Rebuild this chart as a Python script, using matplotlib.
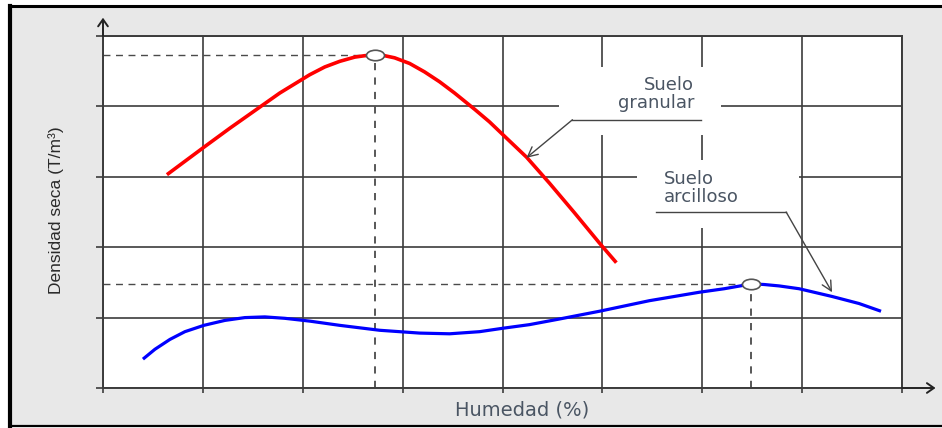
"""Curvas de compactación: densidad seca vs humedad (suelo granular y arcilloso)."""

import numpy as np
import matplotlib
matplotlib.use("Agg")
import matplotlib.pyplot as plt
from matplotlib.lines import Line2D
from matplotlib.patches import Rectangle
from matplotlib.path import Path
from matplotlib.transforms import Affine2D

# Datos (unidades = celdas de la grilla)
humedad_granular = [0.64, 0.82, 1.01, 1.27, 1.57, 1.77, 1.92, 2.07, 2.22, 2.37, 2.52, 2.62,
                    2.72, 2.82, 2.92, 3.07, 3.22, 3.37, 3.52, 3.72, 3.87, 4.01, 4.24, 4.47,
                    4.72, 4.97, 5.14]
densidad_granular = [3.03, 3.22, 3.42, 3.69, 3.99, 4.19, 4.32, 4.45, 4.56, 4.64, 4.70, 4.72,
                     4.73, 4.72, 4.69, 4.61, 4.49, 4.35, 4.19, 3.96, 3.78, 3.59, 3.28, 2.91,
                     2.49, 2.06, 1.78]

humedad_arcilloso = [0.40, 0.52, 0.67, 0.82, 1.01, 1.22, 1.42, 1.62, 1.82, 2.07, 2.37, 2.77,
                     3.17, 3.47, 3.77, 4.01, 4.27, 4.57, 4.97, 5.47, 5.97, 6.22, 6.42, 6.49,
                     6.62, 6.77, 6.97, 7.30, 7.57, 7.79]
densidad_arcilloso = [0.41, 0.55, 0.69, 0.80, 0.89, 0.96, 1.00, 1.01, 0.99, 0.95, 0.89, 0.82,
                      0.78, 0.77, 0.80, 0.85, 0.90, 0.98, 1.09, 1.24, 1.36, 1.41, 1.46, 1.48,
                      1.47, 1.45, 1.41, 1.30, 1.20, 1.09]

GRIS = "#3c3c3c"
FONDO = "#e8e8e8"
TEXTO = "#4a5563"

fig = plt.figure(figsize=(9.42, 4.28), dpi=100, facecolor="white")

# Marco gris con bordes negros (como la captura original)
W, H = 942.0, 428.0
fig.patches.append(Rectangle((10 / W, 2 / H), 1 - 10 / W, (422 - 2) / H,
                             transform=fig.transFigure, facecolor=FONDO,
                             edgecolor="none", zorder=-10))
fig.lines.append(Line2D([10 / W, 1], [(H - 6) / H] * 2, transform=fig.transFigure,
                        color="black", lw=2.2))
fig.lines.append(Line2D([10 / W, 1], [2 / H] * 2, transform=fig.transFigure,
                        color="black", lw=1.6))
fig.lines.append(Line2D([10 / W] * 2, [2 / H, (H - 6) / H], transform=fig.transFigure,
                        color="black", lw=3.0))

ax = fig.add_axes([103 / W, 40 / H, 799 / W, 352 / H])
ax.set_facecolor("white")
ax.set_xlim(0, 8)
ax.set_ylim(0, 5)
ax.set_xticks(np.arange(0, 9))
ax.set_yticks(np.arange(0, 6))
ax.set_xticklabels([])
ax.set_yticklabels([])
ax.tick_params(axis="x", length=3.5, width=1.2, color=GRIS, direction="out")
ax.tick_params(axis="y", length=5, width=1.2, color=GRIS, direction="out")
ax.grid(True, color=GRIS, lw=1.2, zorder=0)
ax.set_axisbelow(True)
for s in ax.spines.values():
    s.set_color(GRIS)
    s.set_linewidth(1.4)

# Flechas de los ejes
ax.annotate("", xy=(0, 1.052), xytext=(0, 1.0), xycoords="axes fraction",
            arrowprops=dict(arrowstyle="->,head_length=0.5,head_width=0.35",
                            color="#222222", lw=1.4, shrinkA=0, shrinkB=0),
            annotation_clip=False)
ax.annotate("", xy=(1.042, 0), xytext=(1.0, 0), xycoords="axes fraction",
            arrowprops=dict(arrowstyle="->,head_length=0.5,head_width=0.35",
                            color="#222222", lw=1.4, shrinkA=0, shrinkB=0),
            annotation_clip=False)

# Recuadros blancos detrás de las etiquetas (tapan la grilla)
ax.add_patch(Rectangle((4.57, 3.59), 1.62, 0.97, facecolor="white", edgecolor="none", zorder=1))
ax.add_patch(Rectangle((5.35, 2.27), 1.62, 0.97, facecolor="white", edgecolor="none", zorder=1))

# Curvas
ax.plot(humedad_granular, densidad_granular, color="#ff0000", lw=2.6,
        solid_joinstyle="round", solid_capstyle="butt", zorder=3)
ax.plot(humedad_arcilloso, densidad_arcilloso, color="#0000ff", lw=2.3,
        solid_joinstyle="round", solid_capstyle="butt", zorder=3)

# Máximos: líneas de trazos y marcador elíptico
elipse = Path.unit_circle().transformed(Affine2D().scale(1.0, 0.58))
for hx, dy in [(humedad_granular, densidad_granular), (humedad_arcilloso, densidad_arcilloso)]:
    i = int(np.argmax(dy))
    xm, ym = hx[i], dy[i]
    ax.plot([0, xm], [ym, ym], color="#4a4a4a", lw=1.0, dashes=(5, 4), zorder=2)
    ax.plot([xm, xm], [0, ym], color="#4a4a4a", lw=1.3, dashes=(4, 4), zorder=2)
    ax.plot([xm], [ym], marker=elipse, markersize=13, markerfacecolor="white",
            markeredgecolor="#555555", markeredgewidth=1.2, zorder=5)

# Etiquetas con líneas de referencia
kw_txt = dict(fontsize=13, color=TEXTO, family="DejaVu Sans", zorder=4, linespacing=1.0)
ax.text(5.92, 4.17, "Suelo\ngranular", ha="right", va="center", multialignment="right",
        **kw_txt)
ax.plot([5.99, 4.70], [3.81, 3.81], color="#444444", lw=1.0, zorder=4)
ax.annotate("", xy=(4.24, 3.27), xytext=(4.70, 3.81),
            arrowprops=dict(arrowstyle="->,head_length=0.7,head_width=0.35",
                            color="#444444", lw=1.0, shrinkA=0, shrinkB=0), zorder=4)

ax.text(5.62, 2.84, "Suelo\narcilloso", ha="left", va="center", multialignment="left",
        **kw_txt)
ax.plot([5.54, 6.84], [2.50, 2.50], color="#444444", lw=1.0, zorder=4)
ax.annotate("", xy=(7.30, 1.36), xytext=(6.84, 2.50),
            arrowprops=dict(arrowstyle="->,head_length=0.7,head_width=0.35",
                            color="#444444", lw=1.0, shrinkA=0, shrinkB=0), zorder=4)

# Títulos de los ejes
fig.text(522 / W, (H - 410) / H, "Humedad (%)", ha="center", va="center",
         fontsize=14, color=TEXTO, family="DejaVu Sans")
fig.text(56 / W, (H - 210) / H, "Densidad seca (T/m³)", ha="center", va="center",
         rotation=90, fontsize=12.5, color="#2a2a2a",
         family=["Liberation Sans Narrow", "Liberation Sans", "DejaVu Sans"])

fig.savefig("out.png", dpi=100, facecolor=fig.get_facecolor())
